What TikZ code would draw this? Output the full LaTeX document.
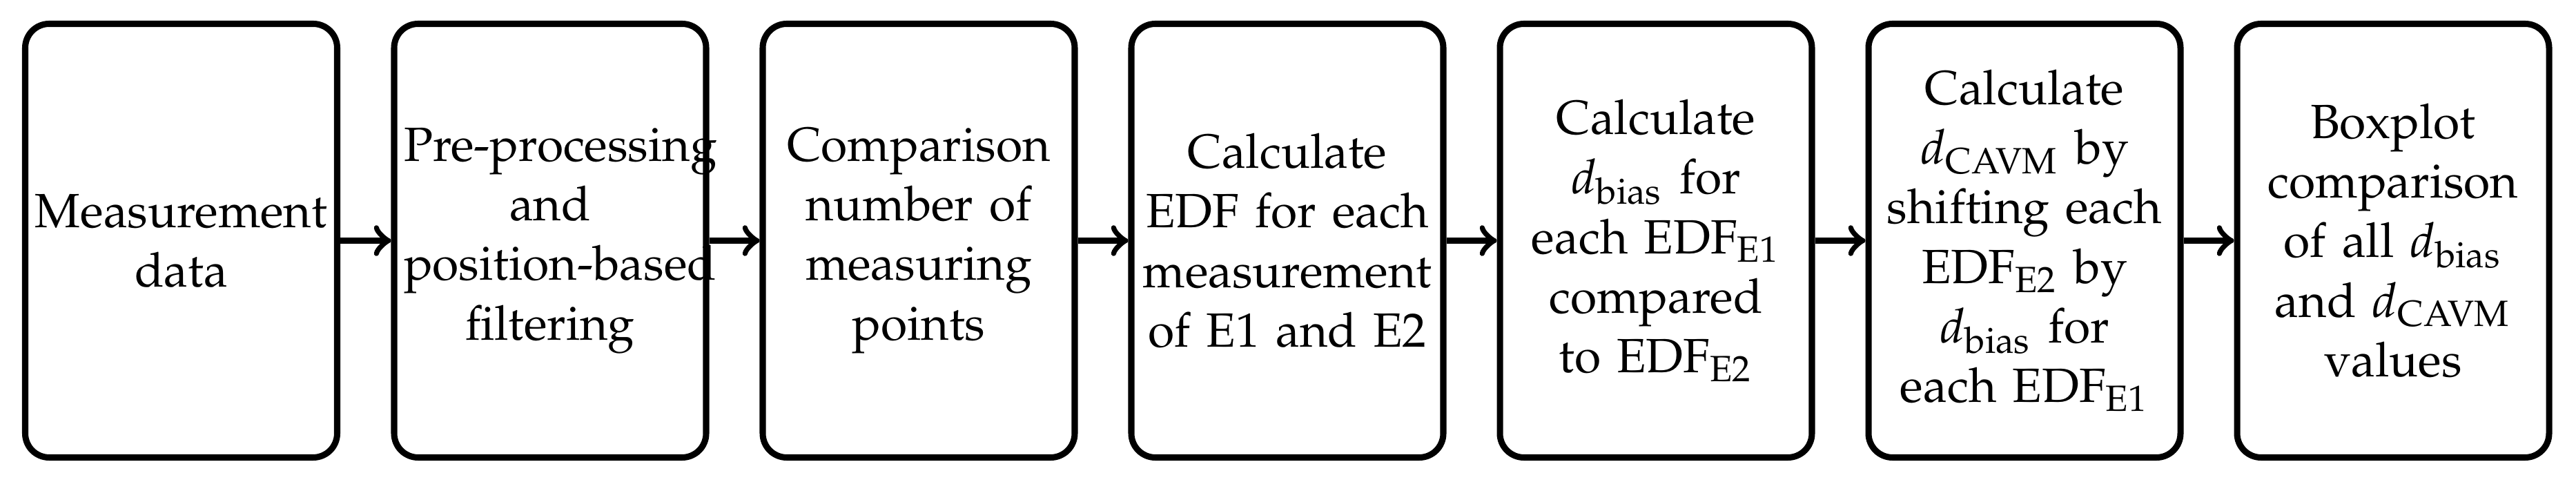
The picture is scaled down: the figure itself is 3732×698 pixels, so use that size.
\documentclass[tikz,border=0pt]{standalone}
\usepackage[T1]{fontenc}
\usepackage{mathpazo}
\begin{document}
\begin{tikzpicture}[x=0.14368pt,y=-0.14368pt,
  stepbox/.style={draw, line width=1.3pt, rounded corners=5pt, inner sep=0pt,
    minimum width=64.94pt, minimum height=90.23pt, text width=60.9pt,
    align=center, font=\fontsize{10}{12.4}\selectfont},
  flow/.style={->, line width=1.3pt}]
\useasboundingbox (0,0) rectangle (3732,698);
\node[stepbox] (n1) at (262.5,348.5) {Measurement\\data};
\node[stepbox] (n2) at (797,348.5) {\mbox{Pre-processing}\\and\\\mbox{position-based}\\filtering};
\node[stepbox] (n3) at (1331,348.5) {Comparison\\number of\\measuring\\points};
\node[stepbox] (n4) at (1865,348.5) {Calculate\\EDF for each\\measurement\\of E1 and E2};
\node[stepbox] (n5) at (2399,348.5) {Calculate\\$d_{\mathrm{bias}}$ for\\each EDF$_{\mathrm{E1}}$\\compared\\to EDF$_{\mathrm{E2}}$};
\node[stepbox] (n6) at (2933,348.5) {Calculate\\$d_{\mathrm{CAVM}}$ by\\shifting each\\EDF$_{\mathrm{E2}}$ by\\$d_{\mathrm{bias}}$ for\\each EDF$_{\mathrm{E1}}$};
\node[stepbox] (n7) at (3467,348.5) {Boxplot\\comparison\\of all $d_{\mathrm{bias}}$\\and $d_{\mathrm{CAVM}}$\\values};
\draw[flow] (n1) -- (n2);
\draw[flow] (n2) -- (n3);
\draw[flow] (n3) -- (n4);
\draw[flow] (n4) -- (n5);
\draw[flow] (n5) -- (n6);
\draw[flow] (n6) -- (n7);
\end{tikzpicture}
\end{document}
